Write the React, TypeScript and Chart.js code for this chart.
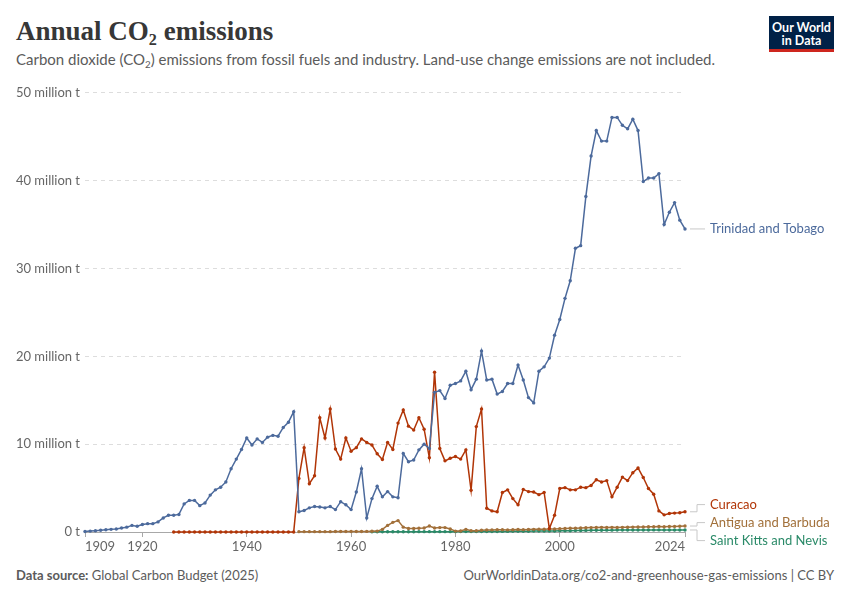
import { useEffect, useRef } from 'react';
import { Chart, registerables } from 'chart.js';

Chart.register(...registerables);

// Annual CO2 emissions, million tonnes, one value per year from the start year
const trinidadStart = 1909;
const trinidad = [
  0.05, 0.1, 0.15, 0.2, 0.25, 0.3, 0.35, 0.45, 0.55, 0.75, 0.65, 0.85, 0.95, 0.95, 1.15, 1.6, 1.9, 1.9, 2.0, 3.2,
  3.6, 3.6, 3.0, 3.3, 4.2, 4.8, 5.1, 5.7, 7.2, 8.3, 9.4, 10.7, 9.9, 10.6, 10.2, 10.8, 11.0, 10.9, 11.9, 12.5,
  13.7, 2.3, 2.45, 2.75, 2.9, 2.85, 2.75, 2.9, 2.55, 3.45, 3.1, 2.55, 4.55, 7.2, 1.6, 3.8, 5.2, 4.0, 4.6, 4.0,
  3.9, 8.95, 8.0, 8.2, 9.35, 10.0, 9.5, 15.9, 16.1, 15.2, 16.7, 16.9, 17.2, 18.3, 16.2, 17.4, 20.6, 17.3, 17.4, 15.7,
  16.0, 16.9, 16.9, 19.0, 17.3, 15.3, 14.7, 18.3, 18.8, 19.8, 22.4, 24.2, 26.6, 28.6, 32.3, 32.6, 38.2, 42.8, 45.7, 44.5,
  44.5, 47.2, 47.2, 46.3, 45.9, 47.0, 45.7, 39.9, 40.3, 40.3, 40.8, 35.0, 36.4, 37.5, 35.5, 34.5,
];

const curacaoStart = 1926;
const curacao = [
  0, 0, 0, 0, 0, 0, 0, 0, 0, 0, 0, 0, 0, 0, 0, 0, 0, 0, 0, 0, 0, 0, 0, 0,
  6.1, 9.6, 5.5, 6.4, 13.0, 10.7, 14.0, 9.45, 8.3, 10.7, 9.2, 9.6, 10.6, 10.2, 9.9, 8.9, 8.25, 10.2, 9.4, 12.4,
  13.9, 12.05, 11.6, 13.0, 11.7, 8.45, 18.2, 9.5, 8.1, 8.4, 8.6, 8.3, 9.35, 4.75, 12.0, 14.0, 2.7, 2.4, 2.3, 4.5,
  4.8, 3.8, 3.1, 4.85, 4.6, 4.55, 4.25, 4.5, 0.4, 1.9, 4.95, 5.05, 4.8, 4.8, 5.1, 5.05, 5.3, 5.95, 5.7, 5.85,
  4.0, 5.1, 6.25, 5.85, 6.75, 7.3, 6.2, 4.95, 4.3, 2.4, 1.95, 2.1, 2.15, 2.2, 2.3,
];

const antiguaStart = 1950;
const antigua = [
  0.04, 0.04, 0.04, 0.04, 0.04, 0.04, 0.04, 0.05, 0.05, 0.05, 0.05, 0.06, 0.06, 0.07, 0.08, 0.1, 0.3, 0.75, 1.1, 1.3,
  0.55, 0.4, 0.4, 0.42, 0.45, 0.68, 0.45, 0.5, 0.5, 0.35, 0.1, 0.12, 0.3, 0.15, 0.15, 0.2, 0.22, 0.24, 0.25, 0.25,
  0.24, 0.26, 0.28, 0.27, 0.29, 0.3, 0.31, 0.32, 0.33, 0.35, 0.37, 0.4, 0.42, 0.44, 0.46, 0.48, 0.5, 0.52, 0.53, 0.52,
  0.53, 0.52, 0.53, 0.54, 0.56, 0.57, 0.58, 0.6, 0.61, 0.62, 0.6, 0.62, 0.64, 0.66, 0.68,
];

const stKittsStart = 1964;
const stKitts = [
  0.02, 0.02, 0.02, 0.03, 0.03, 0.03, 0.03, 0.03, 0.03, 0.04, 0.04, 0.04, 0.04, 0.04, 0.04, 0.04, 0.04, 0.05, 0.05, 0.05,
  0.05, 0.05, 0.06, 0.06, 0.06, 0.07, 0.07, 0.08, 0.08, 0.09, 0.09, 0.1, 0.1, 0.11, 0.11, 0.12, 0.13, 0.14, 0.15, 0.16,
  0.17, 0.18, 0.19, 0.2, 0.2, 0.21, 0.21, 0.22, 0.22, 0.22, 0.23, 0.22, 0.23, 0.23, 0.24, 0.24, 0.23, 0.22, 0.23, 0.23, 0.23,
];

const seriesNames = ['Trinidad and Tobago', 'Curacao', 'Antigua and Barbuda', 'Saint Kitts and Nevis'];
const seriesColors = ['#4c6a9c', '#b13507', '#a2703a', '#2a8a68'];
const xTicks = [1909, 1920, 1940, 1960, 1980, 2000, 2024];
const yTicks = [0, 10, 20, 30, 40, 50];

const toPoints = (start: number, vals: number[]) => vals.map((v, i) => ({ x: start + i, y: v }));

const endLabels = {
  id: 'endLabels',
  afterDatasetsDraw(chart: any) {
    const { ctx, chartArea } = chart;
    const gap = 18;
    const items = chart.data.datasets.map((ds: any, i: number) => {
      const pts = chart.getDatasetMeta(i).data;
      const last = pts[pts.length - 1];
      return { i, label: ds.label, color: ds.borderColor, target: last.y, x: last.x };
    }).sort((a: any, b: any) => a.target - b.target);

    let groups = items.map((it: any) => ({ items: [it], top: it.target }));
    let changed = true;
    while (changed) {
      changed = false;
      for (let g = 0; g < groups.length - 1; g++) {
        const a = groups[g], b = groups[g + 1];
        if (b.top - (a.top + (a.items.length - 1) * gap) < gap) {
          const all = a.items.concat(b.items);
          const mean = all.reduce((s: number, it: any) => s + it.target, 0) / all.length;
          groups.splice(g, 2, { items: all, top: mean - ((all.length - 1) * gap) / 2 });
          changed = true;
          break;
        }
      }
    }

    const x0 = chartArea.right + 5, xe = chartArea.right + 12, x1 = chartArea.right + 20;
    ctx.save();
    ctx.font = '13px Lato';
    ctx.textBaseline = 'middle';
    ctx.lineWidth = 1;
    groups.forEach((g: any) => g.items.forEach((it: any, k: number) => {
      const ly = g.top + k * gap;
      ctx.strokeStyle = '#c8c8c8';
      ctx.beginPath();
      ctx.moveTo(x0, it.target);
      ctx.lineTo(xe, it.target);
      ctx.lineTo(xe, ly);
      ctx.lineTo(x1, ly);
      ctx.stroke();
      ctx.fillStyle = it.color;
      ctx.fillText(it.label, x1 + 5, ly);
    }));
    ctx.restore();
  },
};

function Co2Chart() {
  const ref = useRef<HTMLCanvasElement>(null);
  const ci = useRef<Chart | null>(null);

  useEffect(() => {
    if (!ref.current) return;
    ci.current?.destroy();

    const series = [
      toPoints(trinidadStart, trinidad),
      toPoints(curacaoStart, curacao),
      toPoints(antiguaStart, antigua),
      toPoints(stKittsStart, stKitts),
    ];

    ci.current = new Chart(ref.current, {
      type: 'line',
      data: {
        datasets: series.map((data, i) => ({
          label: seriesNames[i],
          data,
          borderColor: seriesColors[i],
          backgroundColor: seriesColors[i],
          pointBackgroundColor: seriesColors[i],
          pointBorderWidth: 0,
          pointRadius: 1.7,
          borderWidth: 1.5,
          tension: 0,
          clip: false as any,
        })),
      },
      options: {
        animation: false,
        responsive: true, maintainAspectRatio: false,
        layout: { padding: { top: 12, right: 165, bottom: 0, left: 0 } },
        plugins: { legend: { display: false }, tooltip: { enabled: false } },
        scales: {
          x: {
            type: 'linear', min: 1909, max: 2024,
            afterBuildTicks: (s: any) => { s.ticks = xTicks.map(v => ({ value: v })); },
            afterFit: (s: any) => { s.height = 28; },
            grid: { drawOnChartArea: false, drawTicks: true, tickLength: 5, color: '#a8a8a8' },
            border: { display: true, color: '#a8a8a8' },
            ticks: { autoSkip: false, maxRotation: 0, align: 'inner', padding: 2, color: '#666', font: { family: 'Lato', size: 13 }, callback: (v: any) => String(v) },
          },
          y: {
            min: 0, max: 50,
            afterBuildTicks: (s: any) => { s.ticks = yTicks.map(v => ({ value: v })); },
            afterFit: (s: any) => { s.width = 85; },
            grid: { drawTicks: false, color: (c: any) => (c.tick && c.tick.value === 0 ? 'rgba(0,0,0,0)' : '#dddddd') },
            border: { display: false, dash: [4, 4] },
            ticks: { padding: 5, color: '#666', font: { family: 'Lato', size: 13 }, callback: (v: any) => (v === 0 ? '0 t' : `${v} million t`) },
          },
        },
      },
      plugins: [endLabels],
    } as any);

    return () => ci.current?.destroy();
  }, []);

  return <canvas ref={ref} />;
}

export default function App() {
  return (
    <div style={{ position: 'absolute', left: 0, top: 0, width: 850, height: 600, background: '#fff', fontFamily: 'Lato, sans-serif', overflow: 'hidden' }}>
      <div style={{ position: 'absolute', left: 16, top: 18, fontFamily: '"Liberation Serif", serif', fontWeight: 700, fontSize: 27, lineHeight: 1, color: '#373737', whiteSpace: 'nowrap' }}>
        Annual CO<span style={{ fontSize: '0.6em', position: 'relative', top: '0.3em' }}>2</span> emissions
      </div>
      <div style={{ position: 'absolute', left: 16, top: 52, fontSize: 15, lineHeight: 1, color: '#5b5b5b', whiteSpace: 'nowrap' }}>
        Carbon dioxide (CO<span style={{ fontSize: '0.65em', position: 'relative', top: '0.3em' }}>2</span>) emissions from fossil fuels and industry. Land-use change emissions are not included.
      </div>
      <div style={{ position: 'absolute', left: 769, top: 16, width: 65, height: 36, background: '#002147', borderBottom: '3px solid #ce261e', boxSizing: 'border-box', color: '#fff', fontWeight: 700, fontSize: 12.5, lineHeight: '13px', textAlign: 'center', paddingTop: 5 }}>
        Our World<br />in Data
      </div>
      <div style={{ position: 'absolute', left: 0, top: 80, width: 850, height: 480 }}>
        <Co2Chart />
      </div>
      <div style={{ position: 'absolute', left: 16, top: 569, fontSize: 13, lineHeight: 1, color: '#5b5b5b', whiteSpace: 'nowrap' }}>
        <b style={{ fontWeight: 700 }}>Data source:</b> Global Carbon Budget (2025)
      </div>
      <div style={{ position: 'absolute', right: 16, top: 569, fontSize: 13, lineHeight: 1, color: '#5b5b5b', whiteSpace: 'nowrap' }}>
        OurWorldinData.org/co2-and-greenhouse-gas-emissions | CC BY
      </div>
    </div>
  );
}
